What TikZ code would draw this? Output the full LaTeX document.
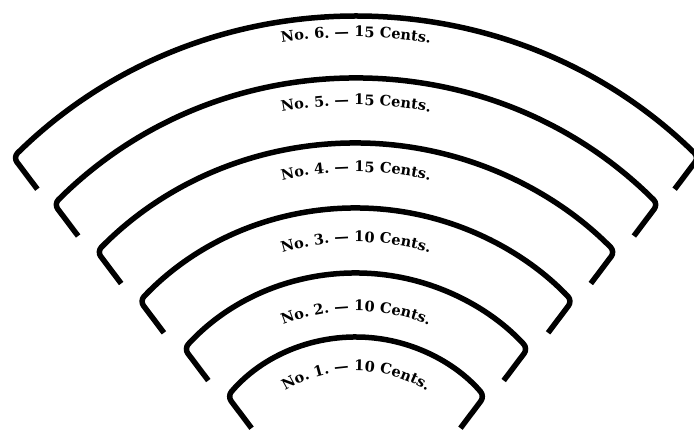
\documentclass[tikz,border=0pt]{standalone}
\usepackage{fontspec}
\newfontfamily\labfont{DejaVu Serif}
\usetikzlibrary{calc,decorations.text}
\tikzset{
  band/.style={line width=5.5pt, line join=round, line cap=butt, rounded corners=6pt},
}
\newcommand\lab{\labfont\bfseries\fontsize{14.5}{17}\selectfont}
\begin{document}
\begin{tikzpicture}[x=1pt,y=1pt]
\useasboundingbox (0,0) rectangle (694,433);
\coordinate (C) at (356,-73);
\foreach \R/\a/\rt/\txt in {
  489/44.5/469/{No. 6. — 15 Cents.},
  427/45/401/{No. 5. — 15 Cents.},
  363/45.5/334/{No. 4. — 15 Cents.},
  298/46.5/264/{No. 3. — 10 Cents.},
  233/47.5/195/{No. 2. — 10 Cents.},
  169/49.5/135/{No. 1. — 10 Cents.}}{
  \draw[band] ($(C)+(90+\a:\R)+(-53:40)$) -- ($(C)+(90+\a:\R)$)
     arc[start angle=90+\a, end angle=90-\a, radius=\R] -- ++(233:40);
  \path[decorate, decoration={text along path, text align=center,
        text/.expanded={|\noexpand\lab|\txt}}]
     ($(C)+(130:\rt)$) arc[start angle=130, end angle=50, radius=\rt];
}
\end{tikzpicture}
\end{document}
